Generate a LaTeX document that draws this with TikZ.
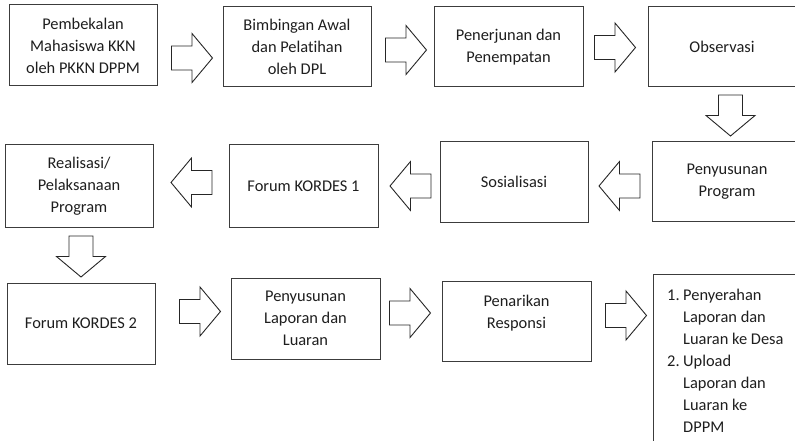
\documentclass[tikz,border=0pt]{standalone}
\usepackage{fontspec}
\setmainfont[Ligatures=NoCommon]{Carlito}
\definecolor{boxgray}{HTML}{3C3C3C}
\definecolor{arrgray}{HTML}{262626}
\definecolor{txtgray}{HTML}{1E1E1E}
\tikzset{
  box/.style={draw=boxgray, line width=1pt, inner sep=0pt, align=center,
    minimum width=148pt, minimum height=80pt, text=txtgray,
    font=\fontsize{16.4}{22}\selectfont},
  txt/.style={inner sep=0pt, align=center, text=txtgray,
    font=\fontsize{16.4}{22}\selectfont},
  ltxt/.style={inner sep=0pt, anchor=base west, text=txtgray,
    font=\fontsize{16.4}{22}\selectfont},
  arrowline/.style={draw=arrgray, line width=0.9pt, line join=miter, fill=white},
  barrow/.pic={\path[arrowline] (-20.5,-12) -- (0,-12) -- (0,-24.5) -- (20.5,0)
     -- (0,24.5) -- (0,12) -- (-20.5,12) -- cycle;}
}
\begin{document}
\begin{tikzpicture}[x=1pt,y=-1pt]
\useasboundingbox (0,0) rectangle (795,441);
\clip (0,0) rectangle (795,441);
% row 1
\node[box, minimum height=81pt] (b1) at (83,45.5) {Pembekalan\\Mahasiswa KKN\\oleh PKKN DPPM};
\node[box] (b2) at (297,47) {Bimbingan Awal\\dan Pelatihan\\oleh DPL};
\node[box, minimum width=149pt] (b3) at (508.5,47) {Penerjunan dan\\Penempatan};
\node[box] (b4) at (722,47) {Observasi};
% row 2
\node[box, minimum width=150pt, minimum height=79pt] (b5) at (727,181.5) {Penyusunan\\Program};
\node[box] (b6) at (514,182) {Sosialisasi};
\node[box, minimum width=149pt, minimum height=82pt] (b7) at (303.5,186) {Forum KORDES 1};
\node[box, minimum height=82pt] (b8) at (79,186) {Realisasi/\\Pelaksanaan\\Program};
% row 3
\node[box, minimum height=81pt] (b9) at (81,323.5) {Forum KORDES 2};
\node[box, minimum width=149pt, minimum height=81pt] (b10) at (305.5,318.5) {Penyusunan\\Laporan dan\\Luaran};
\node[box, minimum width=149pt] (b11) at (516.5,321) {};
\node[txt] (t11) at (516.5,313.5) {Penarikan\\Responsi};
\node[box, minimum width=148pt, minimum height=200pt, anchor=north west] (b12) at (653,274) {};
\node[ltxt] (l1) at (667,300.5) {1.};
\node[ltxt] (l1a) at (683,300.5) {Penyerahan};
\node[ltxt] (l1b) at (683,322.5) {Laporan dan};
\node[ltxt] (l1c) at (683,344.5) {Luaran ke Desa};
\node[ltxt] (l2) at (667,366.5) {2.};
\node[ltxt] (l2a) at (683,366.5) {Upload};
\node[ltxt] (l2b) at (683,388.5) {Laporan dan};
\node[ltxt] (l2c) at (683,410.5) {Luaran ke};
\node[ltxt] (l2d) at (683,432.5) {DPPM};
% block arrows
\pic (a1) at (192,58) {barrow};
\pic (a2) at (406,50) {barrow};
\pic (a3) at (615,47.5) {barrow};
\pic[rotate=-90] (a4) at (730.5,115.5) {barrow};
\pic[rotate=180] (a5) at (619.5,186) {barrow};
\pic[rotate=180] (a6) at (410.5,186) {barrow};
\pic[rotate=180] (a7) at (191.5,182.5) {barrow};
\pic[rotate=-90] (a8) at (81,256.5) {barrow};
\pic (a9) at (200,311.5) {barrow};
\pic (a10) at (410,313) {barrow};
\pic (a11) at (626,315.5) {barrow};
\end{tikzpicture}
\end{document}
